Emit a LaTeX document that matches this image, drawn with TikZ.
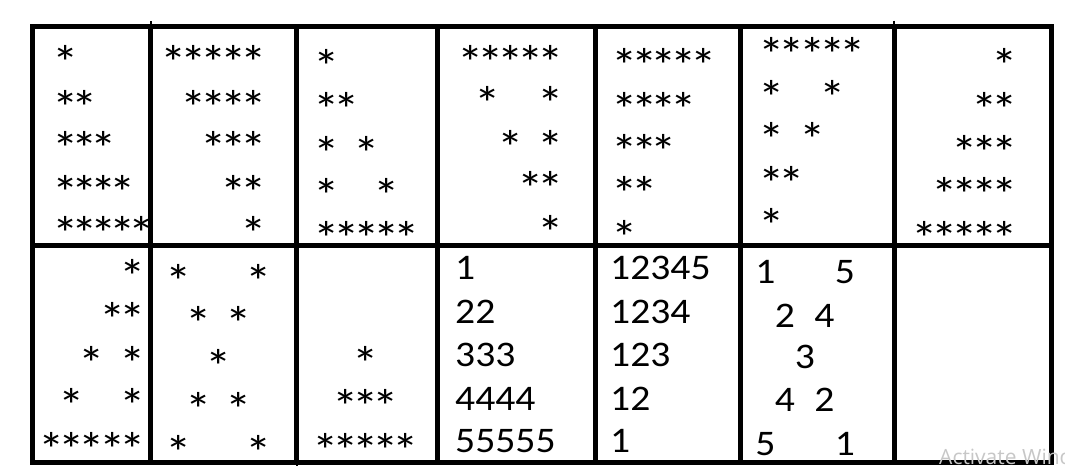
\documentclass[tikz,border=0pt]{standalone}
\usepackage{fontspec}
\usepackage{tikz}
\usetikzlibrary{positioning, calc}

\newfontfamily\cellfont[FakeStretch=1.1]{Carlito}
\newfontfamily\winfont{Open Sans}

% one asterisk, boxed tightly round its ink
\newcommand\astglyph{\makebox[14pt]{\raisebox{-27.4pt}[7pt][7pt]{*}}}

\def\tikgrid{%
    \def\gridw{5pt}

    % draw vertical lines
    \foreach \x in {32.5,150.5,296.5,437.5,595,740.5,894,1051.5}
    {
        \draw[black, line width=\gridw] (\x, 26.5) -- (\x, 462.5);
    }

    % draw horizontal lines
    \foreach \y in {26.5,245,462.5}
    {
        \draw[black, line width=\gridw, line cap=rect] (32.5, \y) -- (1051.5, \y);
    }

    % small overshoots
    \draw[black, line width=2pt] (150.5, 21) -- (150.5, 27);
    \draw[black, line width=2pt] (894, 20.5) -- (894, 27);
    \draw[black, line width=2pt] (296.5, 462) -- (296.5, 466);
}

\tikzset{
    ast/.style={anchor=center, inner sep=0pt, font=\cellfont\fontsize{48}{52}\selectfont},
    numrow/.style={anchor=base west, inner sep=0pt, font=\cellfont\fontsize{36}{40}\selectfont},
    numc/.style={anchor=base, inner sep=0pt, font=\cellfont\fontsize{36}{40}\selectfont},
}

\begin{document}
\begin{tikzpicture}[x=1pt, y=-1pt]
    \useasboundingbox (0, 0) rectangle (1065, 475);
    \tikgrid

    % star rows: name/start x/pitch/centre y/columns
    \foreach \n/\xa/\dx/\yc/\cols in {
        a1/65.7/19.1/51.7/{0},
        a2/65.7/19.1/96.7/{0,1},
        a3/65.7/19.1/138.3/{0,1,2},
        a4/65.7/19.1/181.7/{0,1,2,3},
        a5/65.7/19.1/223.3/{0,1,2,3,4},
        b1/173.3/20/51.7/{0,1,2,3,4},
        b2/173.3/20/96.7/{1,2,3,4},
        b3/173.3/20/137.7/{2,3,4},
        b4/173.3/20/181.7/{3,4},
        b5/173.3/20/223.3/{4},
        c1/326.7/20/56/{0},
        c2/326.7/20/99.3/{0,1},
        c3/326.7/20/142.7/{0,2},
        c4/326.7/20/185/{0,3},
        c5/326.7/20/228.3/{0,1,2,3,4},
        d1/471/19.8/51.7/{0,1,2,3,4},
        d2/471/19.8/93.3/{0.84,4},
        d3/471/19.8/136.7/{2,4},
        d4/471/19.8/178.3/{3,4},
        d5/471/19.8/221.7/{4},
        e1/624.3/19.85/55/{0,1,2,3,4},
        e2/624.3/19.85/99.3/{0,1,2,3},
        e3/624.3/19.85/140.7/{0,1,2},
        e4/624.3/19.85/183.3/{0,1},
        e5/624.3/19.85/226.7/{0},
        f1/771.7/20.25/44/{0,1,2,3,4},
        f2/771.7/20.25/86.7/{0,3},
        f3/771.7/20.25/129.3/{0,2},
        f4/771.7/20.25/172.7/{0,1},
        f5/771.7/20.25/215/{0},
        g1/925/20/55/{4},
        g2/925/20/99.3/{3,4},
        g3/925/20/141.7/{2,3,4},
        g4/925/20/184/{1,2,3,4},
        g5/925/20/228.3/{0,1,2,3,4},
        h1/51.7/20.15/266/{4},
        h2/51.7/20.15/309.3/{3,4},
        h3/51.7/20.15/352.7/{2,4},
        h4/51.7/20.15/395/{1,4},
        h5/51.7/20.15/439.3/{0,1,2,3,4},
        i1/179/20/270.7/{0,4},
        i2/179/20/313.3/{1,3},
        i3/179/20/356/{2},
        i4/179/20/399.3/{1,3},
        i5/179/20/441.7/{0,4},
        j3/326/20/353.3/{2},
        j4/326/20/396/{1,2,3},
        j5/326/20/440/{0,1,2,3,4}}{

        \foreach \c [count=\k] in \cols
        {
            \node[ast] (\n-\k) at ({\xa+\c*\dx}, \yc) {\astglyph};
        }
    }

    % number rows
    \foreach \n/\yb/\left/\right in {
        1/279.3/1/12345,
        2/323/22/1234,
        3/366.5/333/123,
        4/410/4444/12,
        5/452.5/55555/1}{

        \node[numrow] (k-\n) at (455, \yb) {\left};
        \node[numrow] (l-\n) at (610, \yb) {\right};
    }

    % crossed numbers
    \foreach \n/\x/\yb/\d in {
        m1/765.5/283/1, m2/845/283/5,
        m3/785/327/2, m4/824.5/327/4,
        m5/805/368/3,
        m6/785/411.5/4, m7/824.5/411.5/2,
        m8/765.5/455/5, m9/845/455/1}{

        \node[numc] (\n) at (\x, \yb) {\d};
    }

    \node[anchor=west, inner sep=0pt, text=black!22, font=\winfont\fontsize{21}{24}\selectfont]
        (win) at (939, 457) {Activate Windows};
\end{tikzpicture}
\end{document}
